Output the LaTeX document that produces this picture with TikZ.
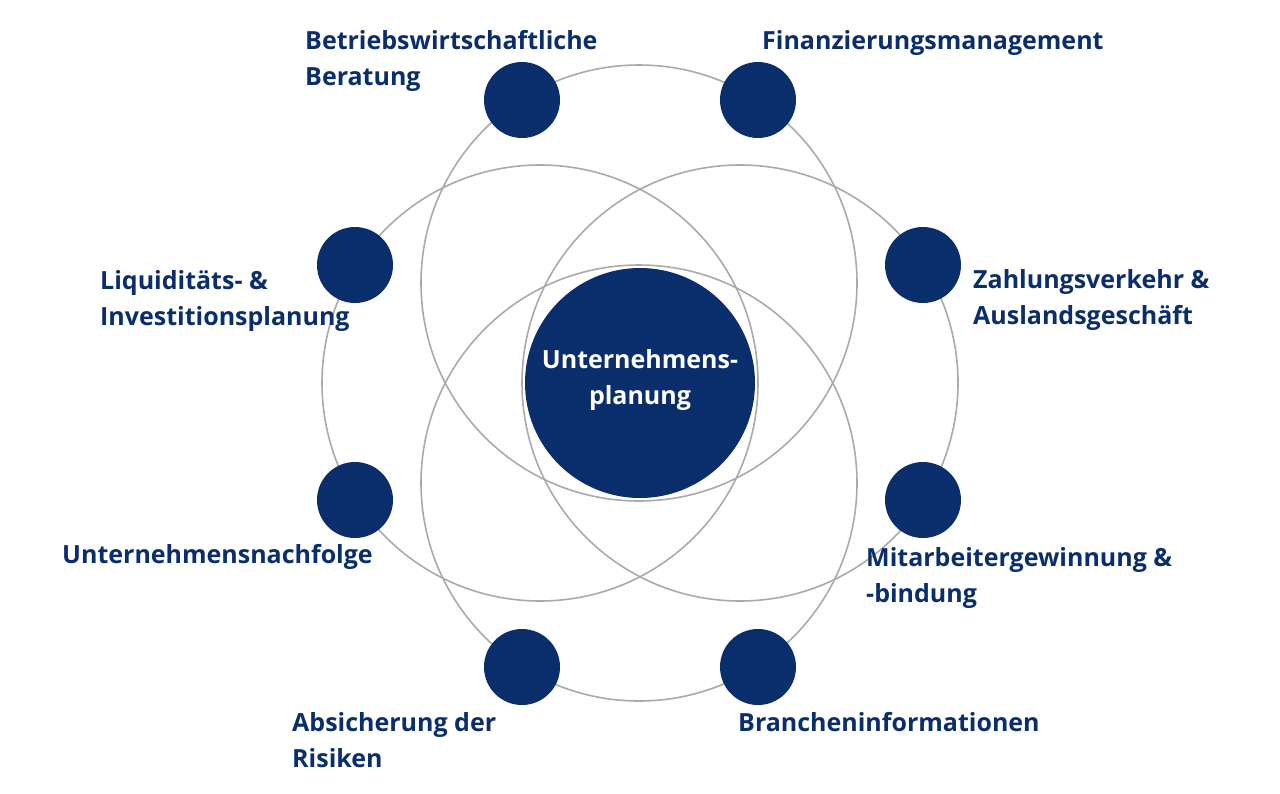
\documentclass[tikz,border=0pt]{standalone}
\usepackage{fontspec}
\setmainfont{Open Sans}
\definecolor{navy}{HTML}{0A2D6B}
\definecolor{ring}{HTML}{AAAAAA}
\begin{document}
\begin{tikzpicture}[x=1pt,y=-1pt,
  ringline/.style={draw=ring,line width=1.6pt},
  dot/.style={circle,fill=navy,minimum size=76pt,inner sep=0pt},
  lab/.style={text=navy,font=\fontsize{25}{36}\selectfont\bfseries,align=left,inner sep=0pt}]
\useasboundingbox (0,0) rectangle (1280,793);
\draw[ringline] (639,283) circle (218);
\draw[ringline] (639,483) circle (218);
\draw[ringline] (540,383) circle (218);
\draw[ringline] (740,383) circle (218);
\node[circle,fill=navy,minimum size=230pt,inner sep=0pt] (c) at (640,383) {};
\node[text=white,font=\fontsize{25}{36}\selectfont\bfseries,align=center] (ct) at (640,380) {Unternehmens-\\planung};
\node[dot] (d1) at (522,100) {};
\node[dot] (d2) at (758,100) {};
\node[dot] (d3) at (355,265) {};
\node[dot] (d4) at (923,265) {};
\node[dot] (d5) at (355,500) {};
\node[dot] (d6) at (923,500) {};
\node[dot] (d7) at (522,667) {};
\node[dot] (d8) at (758,667) {};
\node[lab,anchor=west] (l1) at (305,61) {Betriebswirtschaftliche\\Beratung};
\node[lab,anchor=west] (l2) at (762,43) {Finanzierungsmanagement};
\node[lab,anchor=west] (l3) at (973,300) {Zahlungsverkehr \&\\Auslandsgeschäft};
\node[lab,anchor=west] (l4) at (100,301) {Liquiditäts- \&\\Investitionsplanung};
\node[lab,anchor=west] (l5) at (62,557) {Unternehmensnachfolge};
\node[lab,anchor=west] (l6) at (866,578) {Mitarbeitergewinnung \&\\-bindung};
\node[lab,anchor=west] (l7) at (292,740) {Absicherung der\\Risiken};
\node[lab,anchor=west] (l8) at (738,722) {Brancheninformationen};
\end{tikzpicture}
\end{document}
